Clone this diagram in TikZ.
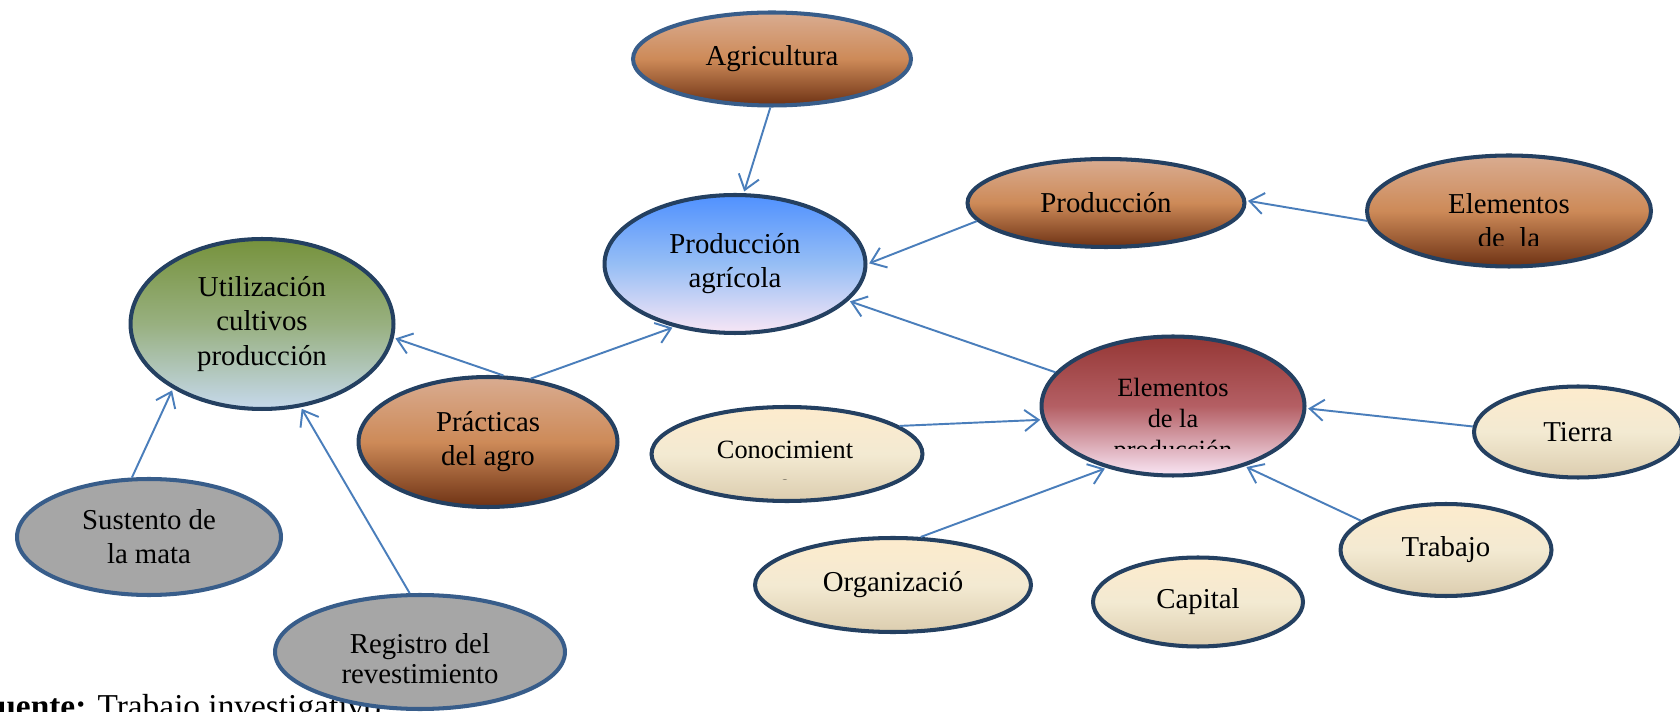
\documentclass[tikz,border=0pt]{standalone}
\usepackage{fontspec}
\setmainfont{Liberation Serif}
\usetikzlibrary{arrows.meta,shapes}
\definecolor{navyline}{RGB}{36,64,97}
\definecolor{blueline}{RGB}{56,93,138}
\definecolor{arrowblue}{RGB}{74,126,187}
\definecolor{brownTop}{RGB}{217,172,145}
\definecolor{brownMid}{RGB}{205,138,88}
\definecolor{brownBot}{RGB}{110,50,20}
\definecolor{blueTop}{RGB}{80,145,255}
\definecolor{blueMid}{RGB}{150,190,245}
\definecolor{blueBot}{RGB}{248,230,245}
\definecolor{greenTop}{RGB}{118,146,60}
\definecolor{greenMid}{RGB}{152,176,128}
\definecolor{greenBot}{RGB}{198,217,236}
\definecolor{redTop}{RGB}{149,55,53}
\definecolor{redMid}{RGB}{180,95,100}
\definecolor{redBot}{RGB}{250,230,245}
\definecolor{creamTop}{RGB}{253,235,205}
\definecolor{creamMid}{RGB}{243,234,210}
\definecolor{creamBot}{RGB}{220,205,175}
\definecolor{grayFill}{RGB}{166,166,166}
\begin{document}
\begin{tikzpicture}[x=0.02cm, y=-0.02cm, shorten >=1pt, line width=2.3pt,
  main node/.style={ellipse, draw=navyline, inner sep=0pt, align=center, font=\fontsize{16.4}{19.4}\selectfont},
  brown node/.style={main node, top color=brownTop, bottom color=brownBot, middle color=brownMid},
  blue node/.style={main node, top color=blueTop, bottom color=blueBot, middle color=blueMid},
  green node/.style={main node, top color=greenTop, bottom color=greenBot, middle color=greenMid},
  red node/.style={main node, top color=redTop, bottom color=redBot, middle color=redMid},
  cream node/.style={main node, top color=creamTop, bottom color=creamBot, middle color=creamMid},
  gray node/.style={main node, draw=blueline, fill=grayFill},
  clip text/.style={anchor=north, align=center, inner sep=0pt}]
\useasboundingbox (0,0) rectangle (1680,712);
\node[anchor=base west, inner sep=0pt, font=\fontsize{19}{22}\selectfont] (fuente) at (-25,717) {\textbf{Fuente:} Trabajo investigativo};
\begin{scope}
\node[brown node, draw=blueline, minimum width=5.56cm, minimum height=1.86cm] (agri) at (772,59) {Agricultura};
\node[blue node, minimum width=5.22cm, minimum height=2.76cm] (prodagr) at (735,264) {Producción\\agrícola};
\node[brown node, minimum width=5.54cm, minimum height=1.76cm] (prod) at (1106,203) {Producción};
\node[brown node, minimum width=5.68cm, minimum height=2.22cm] (elem2) at (1509,211) {};
\node[green node, minimum width=5.26cm, minimum height=3.40cm] (util) at (262,324) {Utilización\\cultivos\\producción};
\node[brown node, minimum width=5.18cm, minimum height=2.60cm] (prac) at (488,442) {Prácticas\\del agro};
\node[red node, minimum width=5.26cm, minimum height=2.78cm] (elemprod) at (1173,406) {};
\node[cream node, minimum width=5.42cm, minimum height=1.88cm] (con) at (787,454) {};
\node[cream node, minimum width=4.16cm, minimum height=1.82cm] (tier) at (1578,432) {Tierra};
\node[cream node, minimum width=4.22cm, minimum height=1.84cm] (trab) at (1446,550) {Trabajo};
\node[cream node, minimum width=4.20cm, minimum height=1.78cm] (cap) at (1198,602) {Capital};
\node[cream node, minimum width=5.52cm, minimum height=1.88cm] (org) at (893,585) {Organizació};
\node[gray node, minimum width=5.28cm, minimum height=2.32cm] (sust) at (149,537) {Sustento de\\la mata};
\node[gray node, minimum width=5.80cm, minimum height=2.28cm] (reg) at (420,652) {};
\end{scope}
% text cut off at the bottom
\begin{scope}
\clip (1365,150) rectangle (1653,246);
\node[clip text, font=\fontsize{16.4}{19.8}\selectfont] (telem2) at (1509,191) {Elementos\\de\ \ la\\producción};
\end{scope}
\begin{scope}
\clip (1040,330) rectangle (1307,449);
\node[clip text, font=\fontsize{15}{17.6}\selectfont] (telemprod) at (1173,376) {Elementos\\de la\\producción};
\end{scope}
\begin{scope}
\clip (650,400) rectangle (925,480);
\node[clip text, font=\fontsize{15}{19.3}\selectfont] (tcon) at (785,439) {Conocimient\\o};
\end{scope}
\begin{scope}
\clip (274,590) rectangle (567,683);
\node[clip text, font=\fontsize{16.4}{17.6}\selectfont] (treg) at (420,631) {Registro del\\revestimiento};
\end{scope}
\begin{scope}[every edge/.style={draw=arrowblue, line width=1.1pt, -{Straight Barb[length=8pt,width=12pt]}}]
\draw (agri.268) edge (prodagr.83);
\draw (prod.188) edge (prodagr.0);
\draw (elem2.184) edge (prod.1);
\draw (elemprod.164) edge (prodagr.-18);
\draw (prac.56) edge (prodagr.226);
\draw (prac.77) edge (util.-6);
\draw (sust.106) edge (util.216);
\draw (reg.100) edge (util.-65);
\draw (con.14) edge (elemprod.186);
\draw (org.60) edge (elemprod.223);
\draw (trab.161) edge (elemprod.-40);
\draw (tier.177) edge (elemprod.-1);
\end{scope}
\end{tikzpicture}
\end{document}
